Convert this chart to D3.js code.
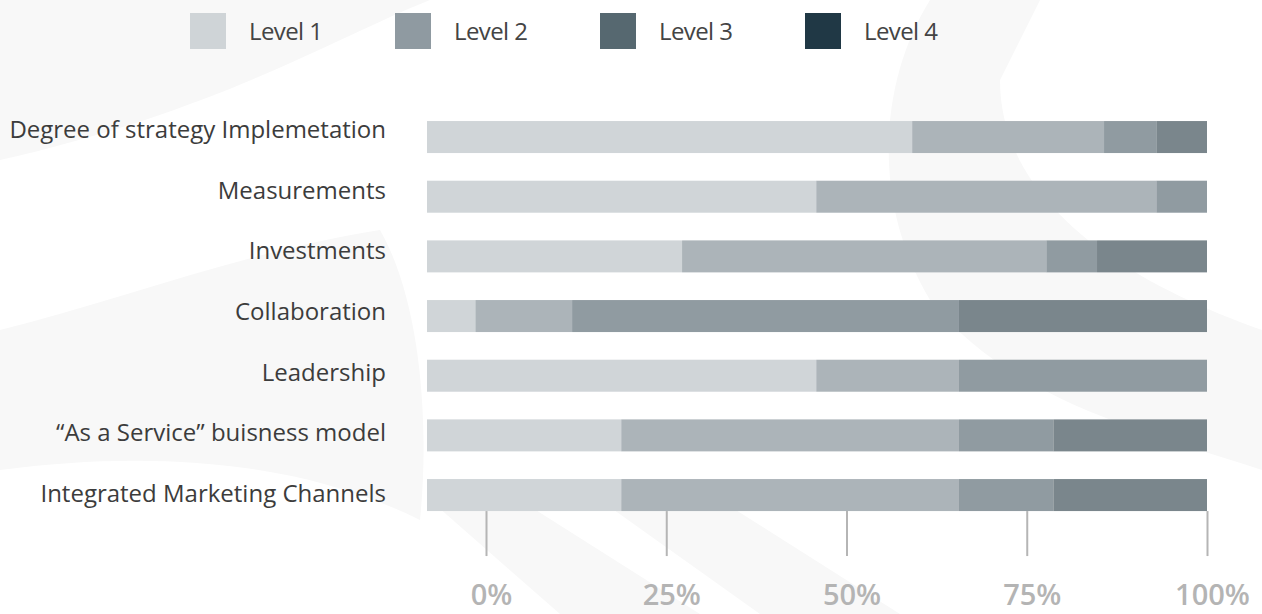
<!DOCTYPE html>
<html>
<head>
<meta charset="utf-8">
<script src="https://cdn.jsdelivr.net/npm/d3@7"></script>
<style>
  html, body { margin: 0; padding: 0; background: #ffffff; }
  svg { display: block; }
</style>
</head>
<body>
<svg id="chart" width="1262" height="614"></svg>
<script>
// Survey maturity levels per capability (share of respondents, %)
const categories = [
  "Degree of strategy Implemetation",
  "Measurements",
  "Investments",
  "Collaboration",
  "Leadership",
  "\u201CAs a Service\u201D buisness model",
  "Integrated Marketing Channels"
];
const levels = ["Level 1", "Level 2", "Level 3", "Level 4"];
const level1 = [62.2, 49.9, 32.7, 6.2, 49.9, 24.9, 24.9];
const level2 = [24.6, 43.6, 46.7, 12.4, 18.3, 43.3, 43.3];
const level3 = [6.7, 6.5, 6.5, 49.6, 31.8, 12.1, 12.1];
const level4 = [6.5, 0, 14.1, 31.8, 0, 19.7, 19.7];
const tickValues = [0, 25, 50, 75, 100];

const legendColors = ["#cfd4d7", "#8f9aa1", "#566870", "#203845"];
const barColors = ["#d0d5d8", "#acb4b9", "#909ba1", "#7a868c"];

const rows = categories.map((c, i) => ({
  category: c,
  "Level 1": level1[i],
  "Level 2": level2[i],
  "Level 3": level3[i],
  "Level 4": level4[i]
}));

const svg = d3.select("#chart");

// faint background watermark shapes
const bg = svg.append("g").attr("fill", "#f8f8f8");
bg.append("path").attr("d", "M0,0 L430,0 C330,40 220,110 0,160 Z");
bg.append("path").attr("d", "M0,330 C120,300 250,250 380,230 C420,300 430,420 420,520 C300,460 150,450 0,470 Z");
bg.append("path").attr("d", "M930,0 C880,80 870,200 930,300 C1010,400 1140,430 1262,470 L1262,330 C1120,280 1000,200 1000,80 L1040,0 Z");
bg.append("path").attr("d", "M430,500 L560,614 L700,614 L520,500 Z");
bg.append("path").attr("d", "M600,500 L760,614 L900,614 L720,500 Z");

const x = d3.scaleLinear().domain([0, 100]).range([427, 1207]);
const y = d3.scaleBand().domain(categories).range([107.2, 524.9])
  .paddingInner(0.4637).paddingOuter(0.232);
// label baselines are spaced slightly wider than the bars
const yLabel = d3.scalePoint().domain(categories).range([138.3, 501.7]);

const stack = d3.stack().keys(levels)(rows);

svg.append("g").selectAll("g")
  .data(stack)
  .join("g")
  .attr("fill", (d, i) => barColors[i])
  .selectAll("rect")
  .data(d => d.filter(s => s[1] - s[0] > 0))
  .join("rect")
  .attr("x", d => x(d[0]))
  .attr("y", d => y(d.data.category))
  .attr("width", d => x(d[1]) - x(d[0]))
  .attr("height", y.bandwidth());

// category labels
svg.append("g").selectAll("text")
  .data(categories)
  .join("text")
  .attr("x", 386)
  .attr("y", d => yLabel(d))
  .attr("text-anchor", "end")
  .attr("font-family", "'Open Sans', sans-serif")
  .attr("font-size", 24)
  .attr("fill", "#3c3c3c")
  .text(d => d);

// percentage axis
const axisScale = d3.scaleLinear().domain([0, 100]).range([486, 1207]);
const axisG = svg.append("g")
  .attr("transform", `translate(0,${y(categories[categories.length - 1]) + y.bandwidth()})`)
  .call(d3.axisBottom(axisScale).tickValues(tickValues).tickSize(45).tickFormat(d => d + "%"));
axisG.select(".domain").remove();
axisG.selectAll(".tick line").attr("stroke", "#b5b5b5").attr("stroke-width", 2);
axisG.selectAll(".tick text")
  .attr("y", 94)
  .attr("dy", 0)
  .attr("dx", 5)
  .attr("font-family", "'Open Sans', sans-serif")
  .attr("font-weight", 600)
  .attr("font-size", 29)
  .attr("fill", "#b4b4b4");

// legend
const legend = svg.append("g").selectAll("g")
  .data(levels)
  .join("g")
  .attr("transform", (d, i) => `translate(${190 + i * 205},13)`);
legend.append("rect")
  .attr("width", 36).attr("height", 36)
  .attr("fill", (d, i) => legendColors[i]);
legend.append("text")
  .attr("x", 59).attr("y", 27)
  .attr("font-family", "'Open Sans', sans-serif")
  .attr("font-size", 24)
  .attr("letter-spacing", -0.6)
  .attr("fill", "#444444")
  .text(d => d);
</script>
</body>
</html>
